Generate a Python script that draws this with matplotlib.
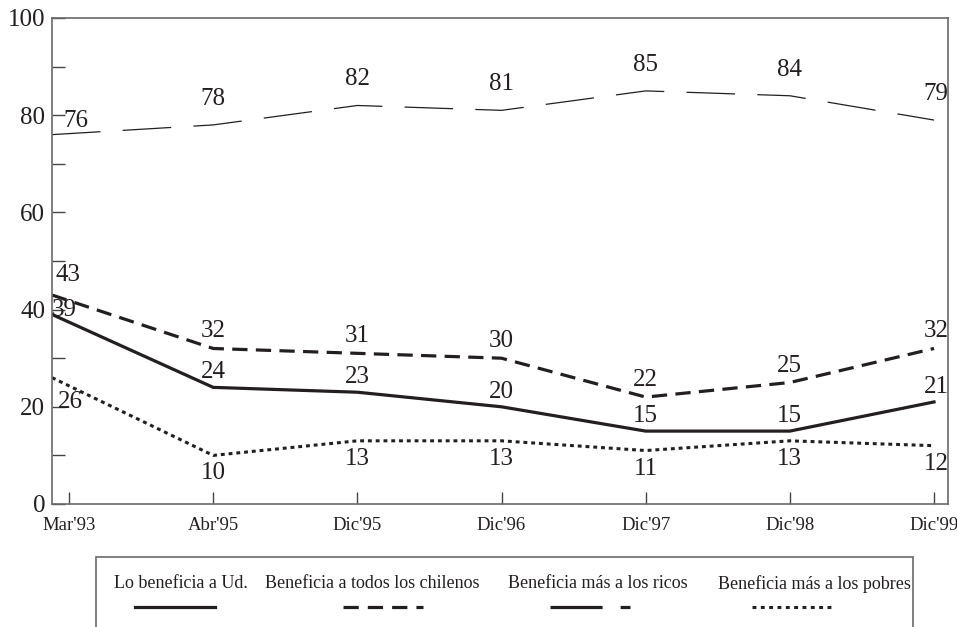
import numpy as np
import matplotlib
matplotlib.use("Agg")
import matplotlib.pyplot as plt
from matplotlib.lines import Line2D
from matplotlib.patches import Rectangle

plt.rcParams['font.family'] = ['Liberation Serif', 'DejaVu Serif']
plt.rcParams['lines.scale_dashes'] = False

periods = ["Mar'93", "Abr'95", "Dic'95", "Dic'96", "Dic'97", "Dic'98", "Dic'99"]

todos = [76, 78, 82, 81, 85, 84, 79]
ricos = [43, 32, 31, 30, 22, 25, 32]
usted = [39, 24, 23, 20, 15, 15, 21]
pobres = [26, 10, 13, 13, 11, 13, 12]

legend_labels = ["Lo beneficia a Ud.", "Beneficia a todos los chilenos",
                 "Beneficia más a los ricos", "Beneficia más a los pobres"]

INK = '#231f20'
GRAY = '#6a6a6a'

fig = plt.figure(figsize=(9.57, 6.27), dpi=100)
ax = fig.add_axes([52 / 957, 1 - 504 / 627, (948 - 52) / 957, (504 - 18) / 627])

x = np.arange(len(periods))
x_left, x_right = -0.118, 6.097
# the series start right at the y axis
x_line = x.astype(float)
x_line[0] = x_left

ax.plot(x_line, todos, color=INK, lw=0.9, dashes=(35, 16))
ax.plot(x_line, ricos, color=INK, lw=2.3, dashes=(11, 6), solid_capstyle='butt',
        dash_capstyle='butt')
ax.plot(x_line, usted, color=INK, lw=2.3, solid_joinstyle='miter')
ax.plot(x_line, pobres, color=INK, lw=2.2, dashes=(2.8, 2.8), dash_capstyle='butt')

# value labels: (series, offset above point in px, offset for the first column)
label_specs = [
    (todos, 26, (7, 14)),
    (ricos, 17, (-1, 20)),
    (usted, 15, (-5, 4)),
    (pobres, -18, (1, -24)),
]
for vals, dy, first in label_specs:
    for i, v in enumerate(vals):
        if i == 0:
            ox, oy = first
        else:
            ox, oy = (2 if i == len(vals) - 1 else 0), dy
        ax.annotate(str(v), (x[i], v), xytext=(ox * 0.72, oy * 0.72),
                    textcoords='offset points', ha='center', va='center',
                    fontsize=18, color=INK)

ax.set_xlim(x_left, x_right)
ax.set_ylim(0, 100)
ax.set_xticks(x)
ax.set_xticklabels(periods, fontsize=13.5, color=INK)
ax.set_yticks(np.arange(0, 101, 20))
ax.set_yticks(np.arange(10, 100, 20), minor=True)
ax.tick_params(axis='y', which='both', direction='in', length=9, width=1,
               color='#444444', labelsize=18, labelcolor=INK, pad=5)
ax.tick_params(axis='x', direction='in', length=9, width=1, color='#444444', pad=9)
for s in ax.spines.values():
    s.set_color(GRAY)
    s.set_linewidth(1.2)

# legend drawn by hand: text above its line sample, inside an open box
fig.add_artist(Rectangle((96 / 957, -0.2), (913 - 96) / 957, 0.2 + (627 - 557) / 627,
                         transform=fig.transFigure, fill=False, edgecolor=GRAY,
                         lw=1.2, clip_on=False))
text_x = [181, 372, 598, 814]
sample_x = [(135, 215), (343, 423), (550, 630), (752, 835)]
sample_style = [dict(lw=2.3),
                dict(lw=2.3, dashes=(11, 6.5), dash_capstyle='butt'),
                dict(lw=2.3, dashes=(37.5, 13), dash_capstyle='butt'),
                dict(lw=2.2, dashes=(2.8, 3.2), dash_capstyle='butt')]
for lab, tx, (x0, x1), st in zip(legend_labels, text_x, sample_x, sample_style):
    fig.text(tx / 957, 1 - 584 / 627, lab, ha='center', va='center',
             fontsize=13, color=INK)
    fig.add_artist(Line2D([x0 / 957, x1 / 957], [1 - 607 / 627] * 2,
                          transform=fig.transFigure, color=INK, **st))

plt.savefig("out.png", dpi=100)
